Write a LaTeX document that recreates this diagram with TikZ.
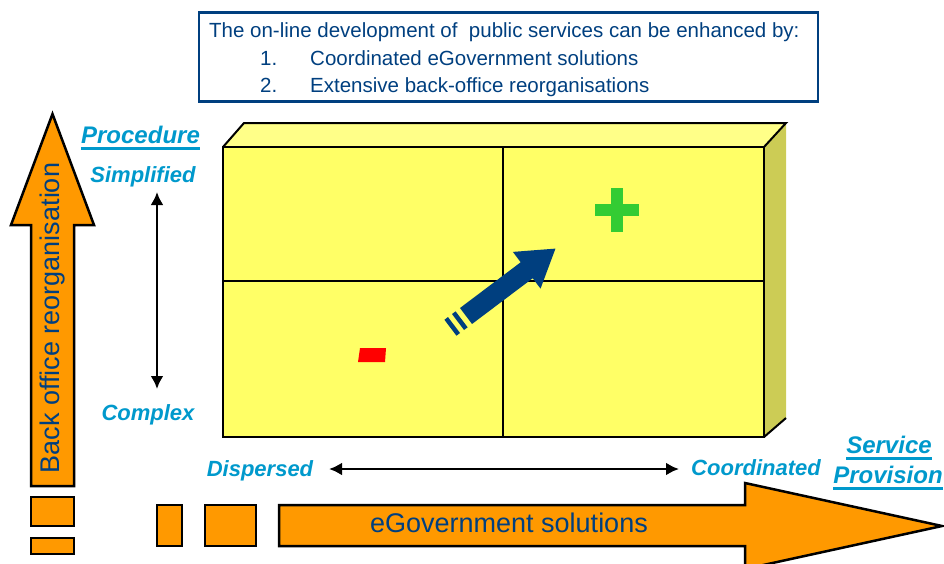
\documentclass[tikz,border=0pt]{standalone}
\usepackage{fontspec}
\setmainfont{Liberation Sans}
\usetikzlibrary{arrows.meta}
\definecolor{navy}{HTML}{003F7F}
\definecolor{cyanlab}{HTML}{0099CC}
\definecolor{orangefill}{HTML}{FF9900}
\definecolor{frontyellow}{HTML}{FFFF66}
\definecolor{topyellow}{HTML}{FFFF88}
\definecolor{sideyellow}{HTML}{CCCC55}
\definecolor{plusgreen}{HTML}{33CC33}
\tikzset{
  titletext/.style={text=navy, inner sep=0pt, font=\fontsize{20.5}{24}\selectfont},
  lab/.style={text=cyanlab, inner sep=0pt, font=\fontsize{22}{26}\selectfont\bfseries\itshape},
  headlab/.style={text=cyanlab, inner sep=0pt, font=\fontsize{24}{28}\selectfont\bfseries\itshape},
  ul/.style={draw=cyanlab, line width=3pt},
  orangeshape/.style={fill=orangefill, draw=black, line width=2.5pt, line join=miter},
  bigtext/.style={text=navy, inner sep=0pt, font=\fontsize{27}{30}\selectfont},
  dbl/.style={line width=2.8pt, {Latex[length=13pt,width=13pt]}-{Latex[length=13pt,width=13pt]}},
  edge/.style={draw=black, line width=2pt}
}
\begin{document}
\begin{tikzpicture}[x=1pt,y=-1pt]
\useasboundingbox (0,0) rectangle (944,563);
\clip (0,0) rectangle (944,563);

% title box
\node (title) [draw=navy, line width=2.5pt, minimum width=619pt, minimum height=89pt, inner sep=0pt] at (508.5,57) {};
\node (t1) [titletext, anchor=base west] at (209,37) {The on-line development of\ \ public services can be enhanced by:};
\node (n1) [titletext, anchor=base west] at (260,65) {1.};
\node (t2) [titletext, anchor=base west] at (310,65) {Coordinated eGovernment solutions};
\node (n2) [titletext, anchor=base west] at (260,92) {2.};
\node (t3) [titletext, anchor=base west] at (310,92) {Extensive back-office reorganisations};

% 3D box
\fill[frontyellow] (223,147) rectangle (764,437);
\fill[topyellow] (223,147) -- (244,123) -- (786,123) -- (764,147) -- cycle;
\fill[sideyellow] (764,147) -- (786,123) -- (786,418) -- (764,437) -- cycle;
\draw[edge] (223,147) -- (244,123) -- (786,123) -- (764,147);
\draw[edge] (764,437) -- (786,418);
\draw[edge] (223,147) rectangle (764,437);
\draw[edge] (503,147) -- (503,437);
\draw[edge] (223,281) -- (764,281);

% plus and minus
\fill[plusgreen] (595,204) rectangle (639,216);
\fill[plusgreen] (611,188) rectangle (623,232);
\fill[red] (360,348) -- (386,348) -- (385,362) -- (358,362) -- cycle;

% blue arrow
\begin{scope}[shift={(466,316)}, rotate=37]
  \fill[navy] (0,-10) -- (76,-10) -- (76,-23) -- (112,0) -- (76,23) -- (76,10) -- (0,10) -- cycle;
  \fill[navy] (-10,-10) rectangle (-5.5,10);
  \fill[navy] (-19.5,-10) rectangle (-15,10);
\end{scope}

% vertical orange arrow
\draw[orangeshape] (31,486) -- (31,225) -- (11,225) -- (52.5,114) -- (94,225) -- (74,225) -- (74,486) -- cycle;
\node (back) [bigtext, rotate=90, anchor=base] at (59,318) {Back office reorganisation};
\draw[orangeshape] (31,497) rectangle (74,526);
\draw[orangeshape] (31,538) rectangle (74,554);

% horizontal orange arrow
\draw[orangeshape] (157,505) rectangle (182,546);
\draw[orangeshape] (205,505) rectangle (256,546);
\draw[orangeshape] (279,505) -- (745,505) -- (745,483) -- (942,526) -- (745,569) -- (745,546) -- (279,546) -- cycle;
\node (egov) [bigtext, anchor=base] at (509,532) {eGovernment solutions};

% procedure labels
\node (proc) [headlab, anchor=base] at (140.5,143) {Procedure};
\draw[ul] ([yshift=-5pt]proc.base west) -- ([yshift=-5pt]proc.base east);
\node (simp) [lab, anchor=base] at (143,182) {Simplified};
\node (comp) [lab, anchor=base] at (148,420) {Complex};
\coordinate (vtop) at (157,192);
\coordinate (vbot) at (157,389);
\draw[dbl] (vtop) -- (vbot);

% service labels
\node (disp) [lab, anchor=base] at (260,476) {Dispersed};
\node (coord) [lab, anchor=base] at (756,475) {Coordinated};
\coordinate (hl) at (329,469);
\coordinate (hr) at (679,469);
\draw[dbl] (hl) -- (hr);
\node (serv) [headlab, anchor=base] at (889,453) {Service};
\draw[ul] ([yshift=-5pt]serv.base west) -- ([yshift=-5pt]serv.base east);
\node (prov) [headlab, anchor=base] at (888,483) {Provision};
\draw[ul] ([yshift=-5pt]prov.base west) -- ([yshift=-5pt]prov.base east);
\end{tikzpicture}
\end{document}
